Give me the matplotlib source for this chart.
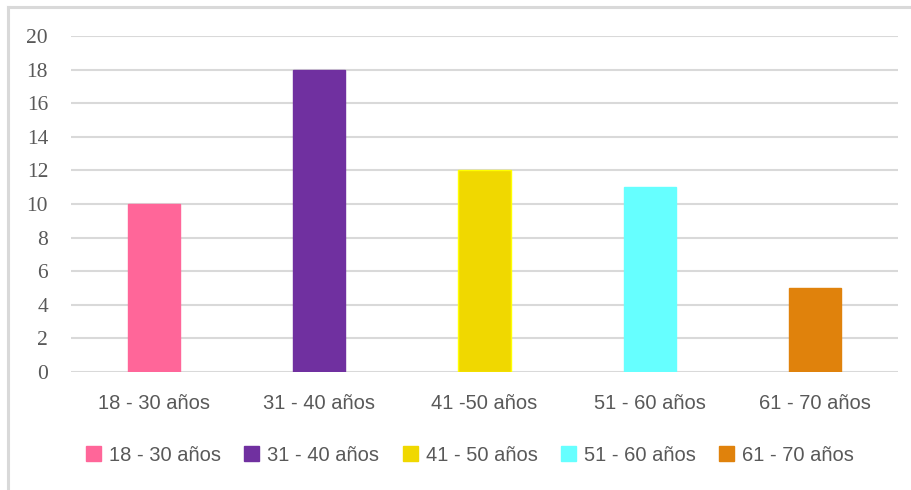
import matplotlib
matplotlib.use("Agg")
import matplotlib.pyplot as plt
from matplotlib.lines import Line2D
from matplotlib.patches import Patch

# data
categories = ["18 - 30 años", "31 - 40 años", "41 -50 años", "51 - 60 años", "61 - 70 años"]
legend_labels = ["18 - 30 años", "31 - 40 años", "41 - 50 años", "51 - 60 años", "61 - 70 años"]
values = [10, 18, 12, 11, 5]
colors = ["#FF6699", "#7030A0", "#F0D800", "#66FFFF", "#E0820C"]
edges = ["#FF6699", "#7030A0", "#FFFF00", "#66FFFF", "#E0820C"]
yticks = [0, 2, 4, 6, 8, 10, 12, 14, 16, 18, 20]

text_color = "#595959"
grid_color = "#D9D9D9"
plt.rcParams["font.family"] = ["Liberation Sans", "DejaVu Sans"]

fig = plt.figure(figsize=(9.12, 4.90), dpi=100)
ax = fig.add_axes([71 / 912, 1 - 372 / 490, 827 / 912, 336 / 490])

x = range(len(categories))
ax.bar(x, values, width=0.315, color=colors, edgecolor=edges, linewidth=1, zorder=3)

ax.set_xlim(-0.5, len(categories) - 0.5)
ax.set_ylim(0, 20)
ax.set_yticks(yticks)
ax.set_xticks(list(x))
ax.set_xticklabels(categories)
ax.yaxis.grid(True, color=grid_color, linewidth=1.5, zorder=0)
ax.set_axisbelow(True)
for s in ax.spines.values():
    s.set_visible(False)
ax.tick_params(axis="x", length=0, colors=text_color, labelsize=14.5, pad=16)
ax.tick_params(axis="y", length=0, colors=text_color, labelsize=15.5, pad=16.5)
for lbl in ax.get_yticklabels():
    lbl.set_fontfamily(["Liberation Serif", "DejaVu Serif"])

handles = [Patch(facecolor=c, edgecolor=c) for c in colors]
leg = fig.legend(handles, legend_labels, loc="center", bbox_to_anchor=(470 / 912, 1 - 455 / 490),
                 ncol=5, frameon=False, fontsize=14.5, handlelength=0.75, handleheight=0.75,
                 handletextpad=0.4, columnspacing=1.15)
for t in leg.get_texts():
    t.set_color(text_color)

# chart border (left and top only visible)
fig.add_artist(Line2D([8.5 / 912, 8.5 / 912], [0, 1 - 7.5 / 490], color=grid_color, linewidth=2.2,
                      transform=fig.transFigure))
fig.add_artist(Line2D([8.5 / 912, 1], [1 - 7.5 / 490, 1 - 7.5 / 490], color=grid_color, linewidth=2.2,
                      transform=fig.transFigure))

fig.savefig("out.png", dpi=100, facecolor="white")
